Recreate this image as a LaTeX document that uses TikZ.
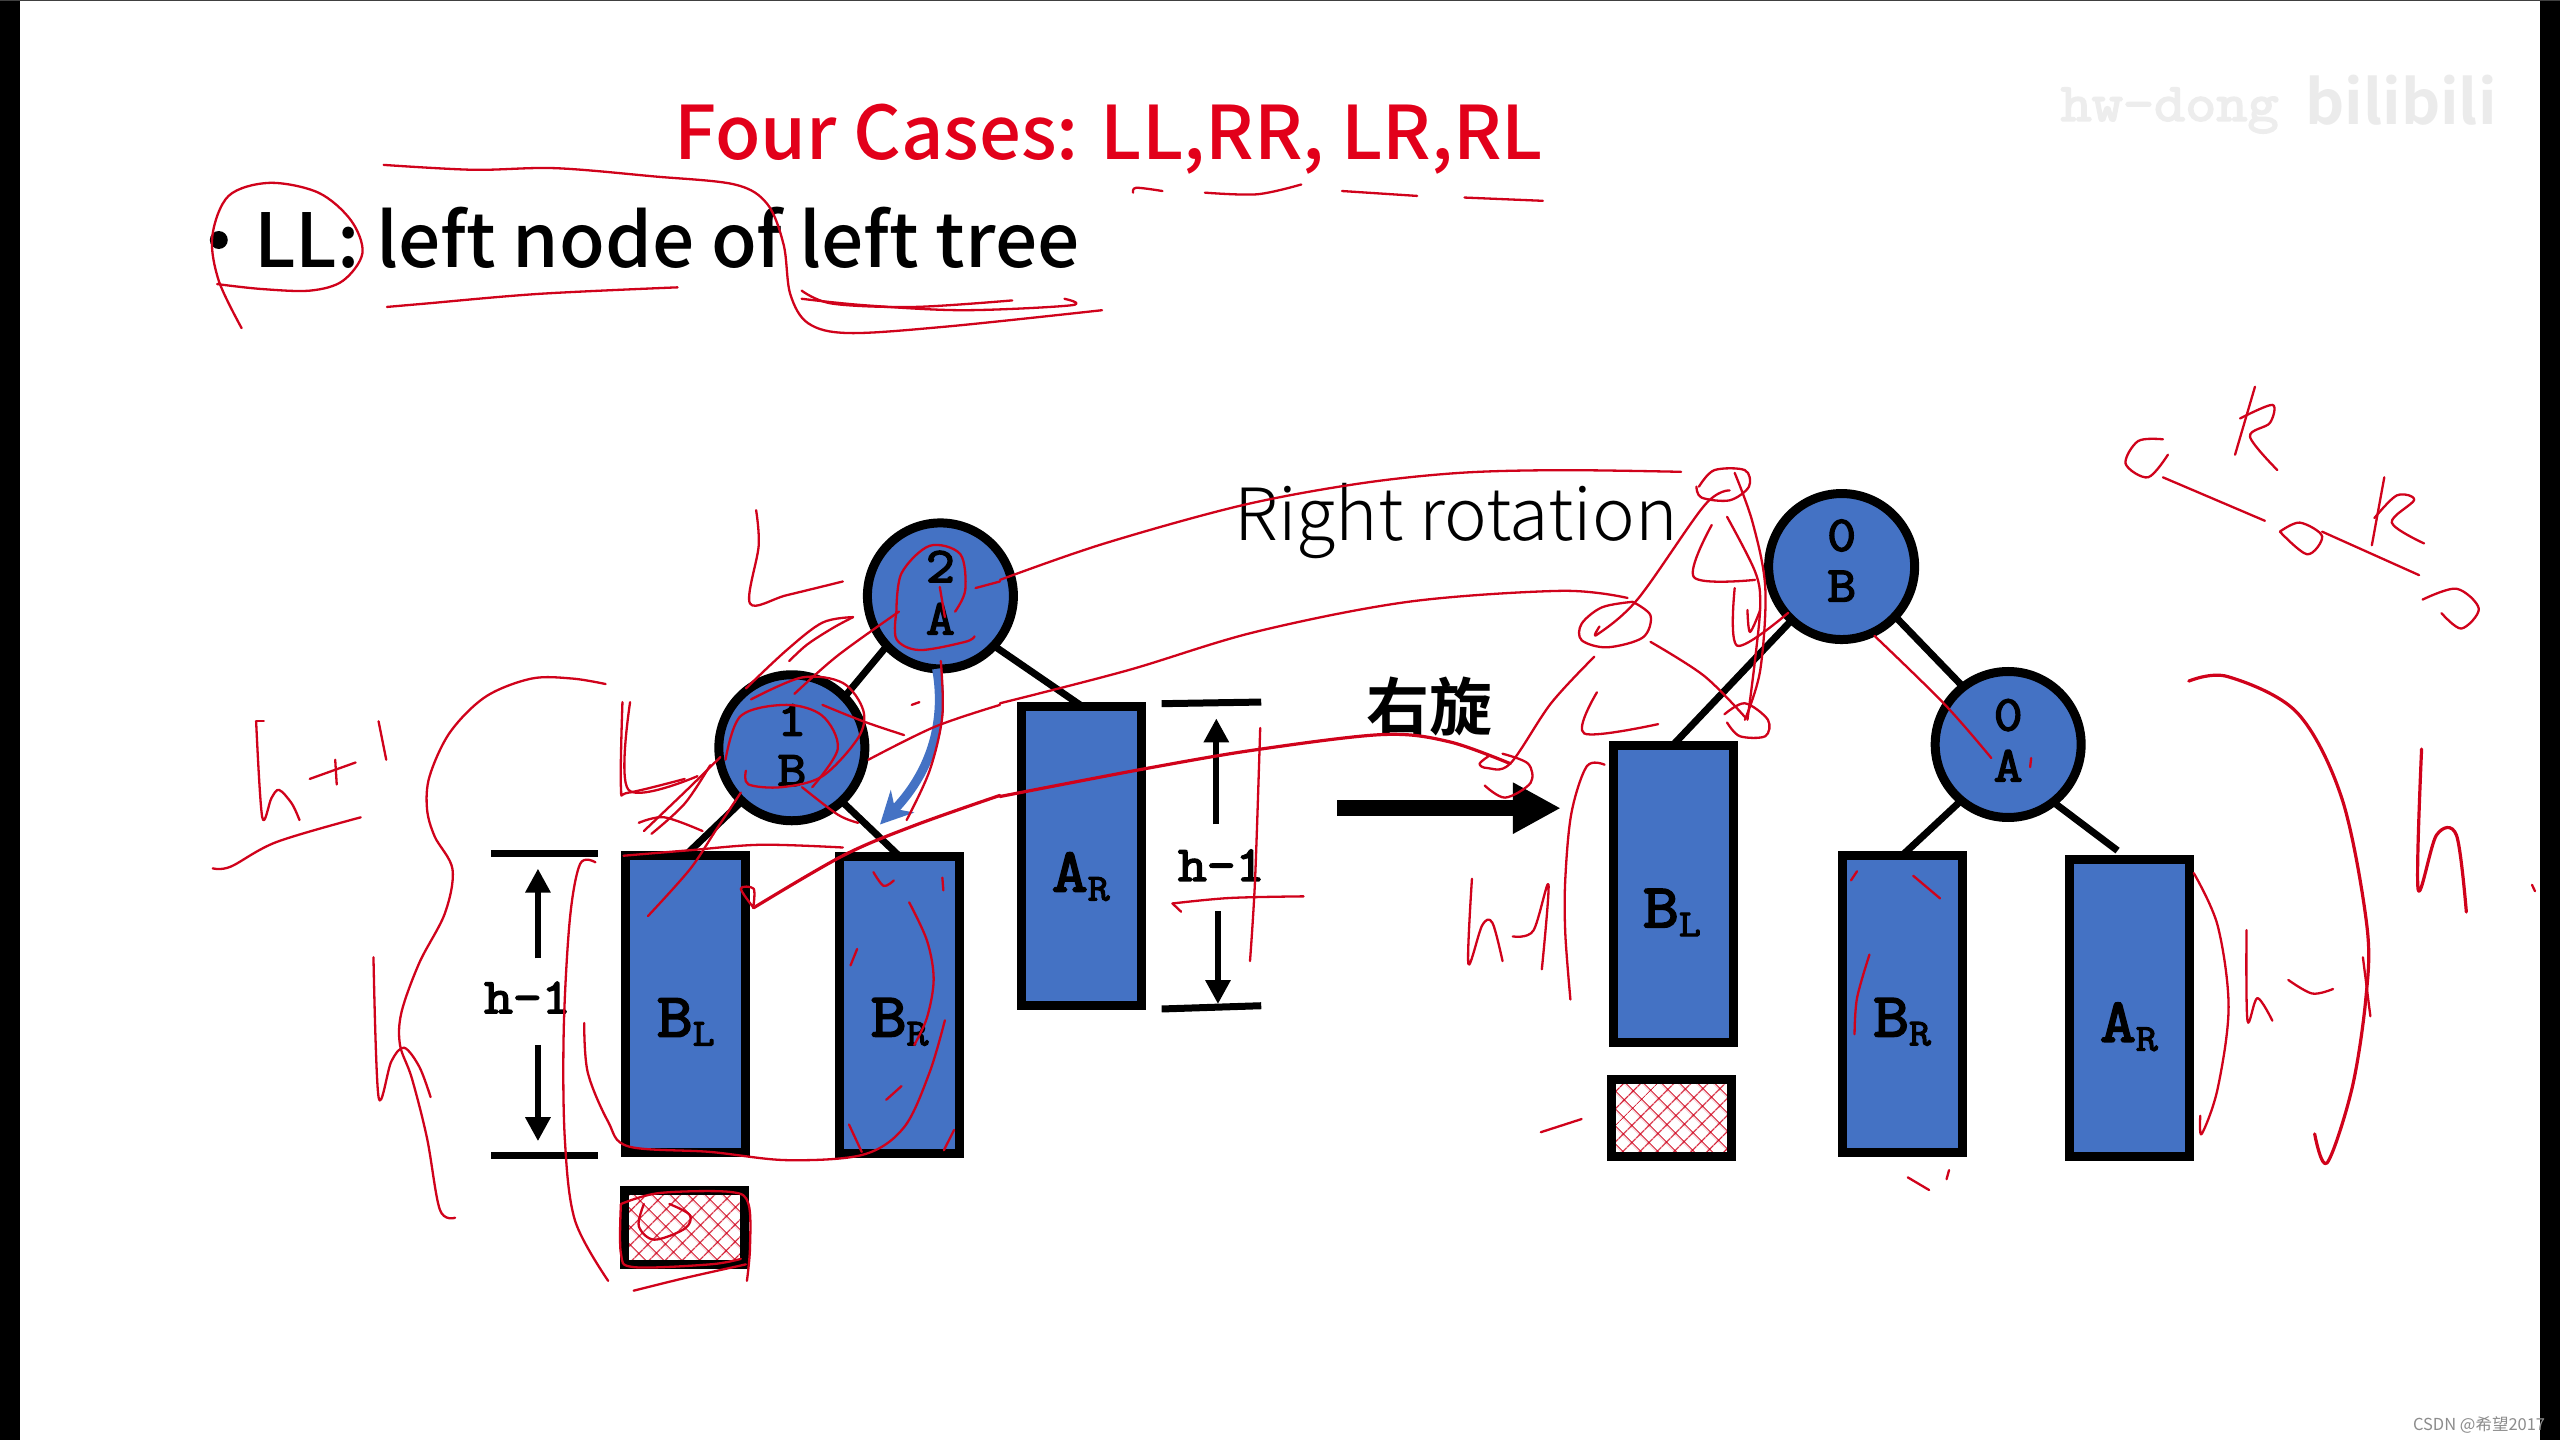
\documentclass[tikz,border=0pt]{standalone}
\usepackage{fontspec}
\usetikzlibrary{arrows.meta,patterns.meta}
\setmainfont{Noto Sans}
\newfontfamily\headf{Noto Sans CJK SC Medium}
\newfontfamily\lightf{Noto Sans CJK SC Light}
\newfontfamily\cjkf{Noto Sans CJK SC Bold}
\newfontfamily\plainf{Noto Sans CJK SC}
\newfontfamily\slabf{Latin Modern Mono}[FakeBold=3.2,FakeStretch=1.12]
\definecolor{nodeblue}{HTML}{4472C4}
\definecolor{inkred}{HTML}{D0021B}
\definecolor{headred}{HTML}{E2001A}
\newcommand{\slab}[1]{\fontsize{#1}{#1}\selectfont\slabf}
\newcommand{\sublab}[2]{{\slab{62}#1}\raisebox{-9pt}{\slab{38}#2}}
\newcommand{\ink}[1]{\draw[ink] plot[smooth,tension=.55] coordinates {#1};}
\tikzset{
  ink/.style={draw=inkred,line width=2.3pt,line cap=round,line join=round},
  inkthick/.style={ink,line width=3.2pt},
  zb/.style={shift={(122.5,294)},x=.5102pt,y=-.5485pt},
  zc/.style={shift={(612.5,269.5)},x=.5102pt,y=-.5485pt},
  zd/.style={shift={(1090.2,12.25)},x=.4974pt,y=-.9056pt},
  circ/.style={circle,draw=black,fill=nodeblue,line width=9pt,minimum size=146pt,inner sep=0pt,outer sep=0pt},
  box/.style={rectangle,draw=black,fill=nodeblue,line width=9pt,minimum width=120pt,minimum height=297pt,inner sep=0pt,outer sep=0pt},
  hatchbox/.style={rectangle,draw=black,line width=9pt,minimum width=120pt,inner sep=0pt,outer sep=0pt,
     pattern={Hatch[angle=45,distance=13pt,line width=1.4pt]},pattern color=inkred},
  edge/.style={draw=black,line width=7pt},
  bar/.style={draw=black,line width=7pt},
  dimarrow/.style={draw=black,line width=6pt,-{Triangle[length=24pt,width=24pt]}},
  nodetxt/.style={inner sep=0pt,font=\slab{50}},
  lab/.style={inner sep=0pt},
}
\begin{document}
\begin{tikzpicture}[x=1.63265pt,y=-1.63265pt]
\useasboundingbox (0,0) rectangle (1568,882);
\fill[white] (0,0) rectangle (1568,882);
\fill[black] (0,0) rectangle (12,882);
\fill[black] (1556,0) rectangle (1568,882);
\fill[black!75] (0,0) rectangle (1568,.8);

% watermark
\node[lab,anchor=base west,text=black!7] (wma) at (1262,74) {\slab{54}hw-dong};
\node[lab,anchor=base west,text=black!8] (wmb) at (1412,76) {\cjkf\fontsize{61}{61}\selectfont bilibili};
\node[lab,anchor=base east,text=black!45] (csdn) at (1559,876) {\plainf\fontsize{16.5}{17}\selectfont CSDN @希望2017};

% titles
\node[lab,anchor=base west,text=headred] (title) at (413,98) {\headf\fontsize{74}{74}\selectfont Four Cases: LL,RR, LR,RL};
\fill[black] (134,147) circle (5.5);
\node[lab,anchor=base west] (line) at (155.5,164) {\headf\fontsize{74.6}{75}\selectfont LL: left node of left tree};
\node[lab,anchor=base west] (rot) at (756,331) {\lightf\fontsize{72}{72}\selectfont Right rotation};
\node[lab] (yx) at (875.5,433) {\cjkf\fontsize{63}{63}\selectfont 右旋};

% left tree
\node[circ] (Aa) at (576,365) {};
\node[circ] (Ba) at (485,458) {};
\node[box] (BLa) at (419.7,615) {};
\node[box] (BRa) at (551,615.5) {};
\node[box,minimum height=299pt] (ARa) at (662.5,524) {};
\node[hatchbox,minimum height=74pt] (Ha) at (419,752) {};
\draw[edge] (Aa.-137) -- (Ba.44);
\draw[edge] (Aa.-43) -- (ARa.north);
\draw[edge] (Ba.-133) -- (BLa.north);
\draw[edge] (Ba.-47) -- (BRa.north);
\node[nodetxt] (Aan) at (576,347) {2};
\node[nodetxt] (Aat) at (576,379) {A};
\node[nodetxt] (Ban) at (485,441) {1};
\node[nodetxt] (Bat) at (485,472) {B};
\node[lab] (BLat) at (420,626) {\sublab{B}{L}};
\node[lab] (BRat) at (551,626) {\sublab{B}{R}};
\node[lab] (ARat) at (662,537) {\sublab{A}{R}};

% blue arrow
\coordinate (blueend) at (539,505);
\draw[draw=nodeblue,line width=9pt,-{Stealth[length=32pt,width=32pt]}] (Aa.-93) .. controls (580,445) and (568,475) .. (blueend);

% dimension bars left
\coordinate (lt1) at (301,523); \coordinate (lt2) at (366,523);
\coordinate (lb1) at (301,708); \coordinate (lb2) at (366,708);
\draw[bar] (lt1) -- (lt2);
\draw[bar] (lb1) -- (lb2);
\node[lab] (hl) at (323,611) {\slab{50}h-1};
\coordinate (lu1) at (329.5,587); \coordinate (lu2) at (329.5,532);
\coordinate (ld1) at (329.5,640); \coordinate (ld2) at (329.5,699);
\draw[dimarrow] (lu1) -- (lu2);
\draw[dimarrow] (ld1) -- (ld2);

% dimension bars right
\coordinate (rt1) at (711.5,431); \coordinate (rt2) at (772.5,430);
\coordinate (rb1) at (711.5,618); \coordinate (rb2) at (772.5,616);
\draw[bar] (rt1) -- (rt2);
\draw[bar] (rb1) -- (rb2);
\node[lab] (hr) at (748,530) {\slab{50}h-1};
\coordinate (ru1) at (745,505); \coordinate (ru2) at (745,440);
\coordinate (rd1) at (746,558); \coordinate (rd2) at (746,615);
\draw[dimarrow] (ru1) -- (ru2);
\draw[dimarrow] (rd1) -- (rd2);

% rotation arrow
\coordinate (ra1) at (819,495); \coordinate (ra2) at (956,495);
\draw[draw=black,line width=16pt,-{Triangle[length=48pt,width=48pt]}] (ra1) -- (ra2);

% right tree
\node[circ] (Bb) at (1128,347) {};
\node[circ] (Ab) at (1230,456) {};
\node[box] (BLb) at (1024.7,547.3) {};
\node[box] (BRb) at (1165,615) {};
\node[box] (ARb) at (1304,617.5) {};
\node[hatchbox,minimum height=77pt] (Hb) at (1023.7,685) {};
\coordinate (ARbn) at (1297,521);
\draw[edge] (Bb.-133) -- (BLb.north);
\draw[edge] (Bb.-43) -- (Ab.128);
\draw[edge] (Ab.-130) -- (BRb.north);
\draw[edge] (Ab.-52) -- (ARbn);
\node[nodetxt] (Bbn) at (1128,328) {0};
\node[nodetxt] (Bbt) at (1128,359) {B};
\node[nodetxt] (Abn) at (1230,438) {0};
\node[nodetxt] (Abt) at (1230,469) {A};
\node[lab] (BLbt) at (1024,559) {\sublab{B}{L}};
\node[lab] (BRbt) at (1165,626) {\sublab{B}{R}};
\node[lab] (ARbt) at (1304,629) {\sublab{A}{R}};

% --- red ink, top
\ink{(148,201)(134,172)(130,145)(140,120)(165,112)(195,118)(215,135)(222,155)(210,172)(190,178)(160,177)(133,174)}
\ink{(235,101)(290,104)(340,103)(400,108)(450,113)(470,125)(480,150)(484,180)(495,198)(520,204)(580,200)(675,190)}
\ink{(237,188)(260,186)(330,180)(415,176)}
\ink{(491,178)(510,186)(560,188)(620,184)}
\ink{(491,183)(530,187)(590,190)(656,187)(652,183)}
\ink{(694,118)(696,115)(712,117)}
\ink{(738,118)(770,119)(797,113)}
\ink{(822,117)(868,120)}
\ink{(897,121)(945,123)}

\begin{scope}[zb]
\ink{(110,440)(125,440)}
\ink{(110,440)(122,615)(140,580)(155,565)(180,590)(195,620)}
\ink{(215,545)(305,515)}
\ink{(265,510)(268,555)}
\ink{(350,440)(365,510)}
\ink{(25,708)(60,705)(150,660)(315,615)}
\ink{(795,372)(730,362)(650,362)(560,395)(490,460)(450,540)(445,600)(460,650)(495,710)(480,790)(430,880)(395,970)(392,1030)(415,1090)(445,1200)(470,1330)(500,1345)}
\ink{(340,870)(350,1125)(375,1060)(400,1035)(430,1070)(452,1125)}
\ink{(775,697)(745,700)(725,800)(713,1000)(715,1200)(735,1350)(800,1460)}
\ink{(753,990)(760,1080)(800,1170)(840,1215)(1000,1225)(1150,1240)(1300,1230)(1380,1180)(1430,1080)(1460,985)}
\ink{(1390,770)(1425,840)(1438,910)(1425,980)(1400,1030)}
\ink{(1455,725)(1457,748)}
\ink{(1320,715)(1340,740)(1360,730)}
\ink{(1288,855)(1275,885)}
\ink{(1375,1105)(1345,1130)}
\ink{(1272,1175)(1297,1225)}
\ink{(1478,1185)(1458,1222)}
\ink{(828,405)(825,560)(840,570)(950,545)}
\ink{(843,405)(840,565)(975,540)}
\ink{(1090,55)(1095,120)(1078,225)(1150,210)(1260,185)}
\ink{(870,640)(960,560)(1020,505)}
\ink{(885,645)(950,590)(1000,520)}
\ink{(1070,530)(1075,555)(1140,560)(1220,540)(1290,470)(1300,420)(1260,370)(1180,360)(1080,400)}
\ink{(1030,510)(1060,430)(1150,410)(1220,430)(1250,490)(1200,560)}
\ink{(1060,570)(1010,640)(960,710)(878,795)}
\ink{(830,685)(960,675)(1100,665)(1260,670)}
\ink{(860,625)(910,615)(985,640)}
\ink{(1155,330)(1190,300)(1240,270)(1280,250)}
\ink{(1070,380)(1150,310)(1220,260)(1280,250)}
\ink{(1165,390)(1250,320)(1370,240)}
\ink{(1365,240)(1365,290)(1410,310)(1500,295)(1518,285)}
\ink{(1365,240)(1375,170)(1430,120)(1490,135)(1500,200)(1480,240)}
\ink{(1450,195)(1460,250)}
\ink{(1520,197)(1568,185)}
\ink{(1452,330)(1455,430)(1430,530)(1385,620)}
\ink{(1220,410)(1300,440)(1380,465)}
\ink{(1395,410)(1410,405)}
\ink{(1180,560)(1250,610)(1290,625)}
\ink{(1310,510)(1440,450)(1568,410)}
\draw[inkthick] plot[smooth,tension=.55] coordinates {(1568,575)(1400,630)(1260,685)(1085,780)};
\ink{(1085,780)(1060,745)(1085,745)(1085,775)}
\end{scope}

\begin{scope}[zc]
\ink{(0,255)(200,190)(470,120)(700,80)(900,60)(1100,55)(1335,58)}
\ink{(0,480)(250,420)(500,350)(800,295)(1100,275)(1230,288)}
\draw[inkthick] plot[smooth,tension=.55] coordinates {(0,650)(280,600)(500,565)(750,537)(880,550)(1000,590)};
\ink{(1370,85)(1400,55)(1460,55)(1468,85)(1430,110)(1375,105)(1365,85)}
\ink{(1430,92)(1380,120)(1250,290)(1170,355)(1175,340)}
\ink{(1240,295)(1275,320)(1260,360)(1190,378)(1140,365)(1140,335)(1180,305)(1240,295)}
\ink{(1395,155)(1360,250)(1480,255)}
\ink{(1425,140)(1480,240)(1490,300)(1480,400)(1465,510)}
\ink{(1440,60)(1475,150)(1500,270)(1490,420)(1460,510)}
\ink{(1440,270)(1445,375)(1545,315)}
\ink{(1465,310)(1470,350)(1490,310)}
\ink{(1420,500)(1460,480)(1505,510)(1500,540)(1450,540)(1425,515)}
\ink{(1275,368)(1380,430)(1460,505)}
\ink{(1165,395)(1080,480)(1000,590)(955,598)(940,590)(960,575)}
\ink{(985,572)(1035,590)(1040,625)(990,652)(950,630)}
\ink{(1170,460)(1145,535)(1290,518)}
\ink{(1185,592)(1150,595)(1120,680)(1108,800)(1108,900)(1118,1020)}
\ink{(925,800)(918,955)(945,885)(965,880)(985,950)}
\ink{(1005,905)(1045,895)(1075,810)(1062,965)}
\ink{(1060,1262)(1140,1238)}
\ink{(338,845)(355,860)}
\ink{(338,845)(450,835)(595,832)}
\ink{(510,525)(500,800)(490,950)}
\end{scope}

\begin{scope}[zd]
\ink{(770,463)(720,465)(695,490)(740,505)(780,480)}
\ink{(770,505)(975,553)}
\ink{(955,405)(915,480)}
\ink{(925,440)(990,425)(985,445)(945,460)(1000,497)}
\ink{(1005,565)(1045,555)(1090,570)(1060,590)(1005,565)}
\ink{(1090,565)(1285,613)}
\ink{(1215,505)(1190,580)}
\ink{(1195,550)(1240,525)(1275,530)(1230,555)(1295,578)}
\ink{(1292,640)(1360,628)(1405,650)(1370,672)(1330,655)}
\draw[inkthick] plot[smooth,tension=.55] coordinates {(822,730)(900,725)(1040,765)(1130,860)(1180,1000)(1178,1080)(1150,1180)(1100,1262)(1075,1230)};
\ink{(1172,1035)(1187,1100)}
\draw[inkthick] plot[smooth,tension=.55] coordinates {(1290,805)(1283,960)(1320,900)(1360,900)(1380,985)};
\ink{(1512,955)(1518,962)}
\ink{(832,942)(880,1000)(902,1090)(880,1180)(848,1230)(845,1210)}
\ink{(938,1005)(940,1105)(960,1080)(990,1105)}
\ink{(1022,1060)(1070,1075)(1112,1070)}
\ink{(143,950)(155,940)}
\ink{(268,945)(322,970)}
\ink{(180,1032)(155,1080)(150,1120)}
\ink{(257,1278)(300,1292)}
\ink{(335,1280)(340,1270)}
\ink{(190,680)(330,755)(425,815)}
\ink{(505,815)(503,825)}
\end{scope}

% hatch box ink
\begin{scope}[zb]
\ink{(825,1320)(900,1300)(1040,1298)(1075,1320)(1078,1400)(1072,1460)}
\ink{(825,1320)(825,1410)(850,1435)(1000,1430)(1060,1420)}
\ink{(850,1478)(950,1455)(1070,1430)}
\ink{(870,1320)(860,1360)(890,1385)(950,1365)(960,1340)(920,1320)}
\end{scope}
\end{tikzpicture}
\end{document}
